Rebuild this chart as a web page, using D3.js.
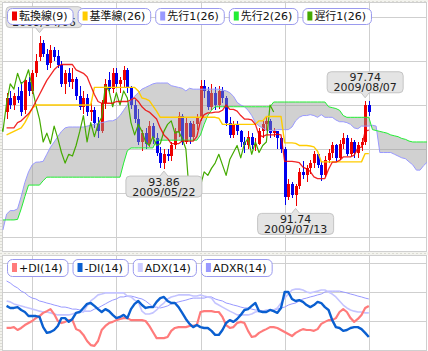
<!DOCTYPE html>
<html>
<head>
<meta charset="utf-8">
<script src="https://cdnjs.cloudflare.com/ajax/libs/d3/7.8.5/d3.min.js"></script>
<style>
body { margin: 0; background: #fff; }
svg { display: block; }
</style>
</head>
<body>
<div id="chart"></div>
<script>
// USD/JPY daily, bar 0 = 2009/04/06
const firstBar = -9
const firstDate = "2009-03-24"

const open = [97.1,97.9,97.5,98.0,98.3,97.2,98.8,98.3,99.3,
  100.2,101.0,100.4,99.9,100.6,100.3,99.8,98.7,99.3,98.8,
  99.0,98.0,97.4,97.9,97.1,97.2,96.5,96.0,97.6,98.9,
  98.4,99.3,98.7,98.9,99.5,98.5,97.5,96.7,95.4,95.9,
  95.3,96.3,95.6,94.8,94.2,94.7,94.6,95.2,96.0,96.9,
  95.4,96.5,95.7,96.4,96.8,98.6,98.3,97.4,98.2,97.5,
  98.3,97.9,96.5,95.8,96.4,96.0,95.4,95.2,95.7,95.2,
  95.3,96.0,96.4,96.6,95.9,96.0,95.6,95.0,92.3,93.0,
  92.4,92.9,93.7,93.5,93.9,94.2,94.7,94.1,93.5,94.4,
  94.8,95.2,94.5,95.3,95.6,94.7,95.4,94.8,95.2,95.4,
  97.5]
const high = [98.2,98.3,98.2,98.5,98.8,99.0,99.1,99.5,100.4,
  101.44,101.2,100.7,100.9,100.8,100.6,100.0,99.5,99.6,99.6,
  99.1,98.6,98.3,98.1,97.6,97.4,96.8,97.8,99.0,99.4,
  99.6,99.6,99.1,99.7,99.6,98.6,97.8,97.3,96.1,96.2,
  96.6,96.5,95.9,95.1,95.0,95.0,95.4,96.2,97.1,97.0,
  96.8,96.6,96.6,97.0,98.9,98.9,98.5,98.7,98.5,98.6,
  98.5,98.0,96.8,96.6,96.6,96.1,95.7,96.0,95.9,95.6,
  96.2,96.6,96.8,96.7,96.2,96.0,95.7,95.1,93.3,93.1,
  93.0,93.9,94.3,94.1,94.4,94.9,94.8,94.3,94.6,95.0,
  95.4,95.3,95.5,95.9,95.8,95.6,95.5,95.4,95.6,97.74,
  97.7]
const low = [96.7,97.3,97.2,97.6,96.9,97.0,98.0,98.1,99.1,
  100.0,100.2,99.5,99.6,100.0,99.6,98.5,98.1,98.5,98.4,
  97.8,97.2,97.0,96.9,96.6,96.2,95.6,95.9,97.3,98.1,
  98.2,98.5,98.2,98.5,98.2,97.3,96.5,95.2,94.9,95.0,
  95.1,95.3,94.6,93.9,93.86,94.3,94.3,95.0,95.7,95.2,
  95.3,95.3,95.5,96.1,96.6,97.9,97.2,97.2,97.2,97.3,
  97.6,96.3,95.6,95.6,95.8,95.1,94.8,95.0,95.0,94.9,
  95.2,95.6,96.0,95.6,95.7,95.0,94.8,91.8,92.1,92.2,
  91.74,92.7,93.3,93.1,93.6,93.9,93.9,93.2,93.4,94.2,
  94.5,94.3,94.4,95.0,94.6,94.6,94.5,94.5,94.9,95.2,
  96.9]
const close = [97.9,97.5,98.0,97.8,97.1,98.9,98.3,99.3,100.0,
  101.0,100.4,99.8,100.6,100.2,99.8,98.7,99.3,98.8,99.0,
  98.0,97.4,97.9,97.1,97.2,96.5,96.0,97.6,98.7,98.4,
  99.3,98.7,98.9,99.5,98.5,97.5,96.7,95.4,95.9,95.3,
  96.3,95.6,94.8,94.2,94.7,94.6,95.2,96.0,96.9,95.4,
  96.5,95.7,96.4,96.8,98.6,98.3,97.4,98.2,97.5,98.3,
  97.9,96.5,95.8,96.4,96.0,95.4,95.2,95.7,95.2,95.3,
  96.0,96.4,96.6,95.9,96.0,95.6,95.0,92.3,93.0,92.4,
  92.9,93.7,93.5,93.9,94.2,94.7,94.1,93.5,94.4,94.8,
  95.2,94.5,95.3,95.6,94.7,95.4,94.8,95.2,95.4,97.5,
  97.1]

// ichimoku lines, same bars as the candles
const tenkan = [96.2,96.2,96.2,96.5,96.6,96.8,97.0,97.3,97.7,
  98.1,98.5,98.9,99.2,99.5,99.7,99.8,99.8,99.8,99.8,
  99.5,99.4,99.3,99.1,98.6,98.1,97.7,97.6,97.6,97.6,
  97.6,97.7,97.7,97.7,97.7,97.8,97.9,97.7,97.4,97.2,
  97.1,96.9,96.7,96.2,95.8,95.6,95.3,95.3,95.3,95.45,
  95.45,95.45,95.45,95.7,96.6,96.95,97.05,97.05,97.1,97.1,
  97.2,97.5,97.25,97.25,97.15,96.9,96.7,96.7,96.65,96.4,
  95.8,95.7,95.8,95.8,95.8,95.85,95.8,94.3,94.3,94.3,
  94.27,94.22,93.97,93.87,93.72,93.42,93.32,93.32,93.32,93.85,
  94.25,94.25,94.35,94.55,94.55,94.55,94.65,95.05,95.1,96.02,
  96.07]
const kijun = [95.8,95.9,96.0,96.1,96.2,96.5,96.9,97.3,97.5,
  97.5,97.5,97.5,97.5,97.5,97.5,97.5,97.5,97.5,97.5,
  97.5,97.5,97.5,97.5,97.5,98.5,98.5,98.5,98.5,98.5,
  98.5,98.5,98.5,98.5,98.5,98.5,98.5,98.3,97.9,97.85,
  97.75,97.45,97.15,96.8,96.8,96.8,96.8,96.8,96.8,96.8,
  96.8,96.8,96.8,96.8,96.8,96.8,96.8,96.8,96.8,96.75,
  96.4,96.4,96.4,96.4,96.4,96.4,96.4,96.4,96.4,96.4,
  96.6,96.6,96.85,96.85,96.85,96.85,96.85,95.35,95.35,95.35,
  95.32,95.2,95.2,95.2,95.17,95.12,94.87,94.27,94.27,94.27,
  94.27,94.27,94.27,94.27,94.27,94.27,94.27,94.27,94.27,94.74,
  94.74]

// leading spans start one bar earlier and run 26 bars ahead
const leadFirst = -10
const senkouA = [90.4,91.3,91.5,91.5,91.6,92.3,93.1,93.7,94.1,94.25,
  94.26,94.3,94.7,95.1,95.4,95.7,96.0,96.2,96.25,96.25,
  96.25,96.25,96.25,96.3,96.35,96.4,96.45,96.5,96.55,96.6,
  96.6,96.7,96.9,97.2,97.5,97.8,98.0,98.2,98.4,98.5,
  98.6,98.7,98.75,98.75,98.75,98.75,98.6,98.55,98.5,98.45,
  98.3,98.45,98.4,98.4,98.4,98.4,98.4,98.4,98.4,98.4,
  98.35,98.3,98.2,98.0,97.65,97.5,97.4,97.2,96.9,96.5,
  96.3,96.2,96.05,96.05,96.05,96.1,96.1,96.1,96.1,96.25,
  96.6,96.8,96.9,96.9,96.95,96.9,96.8,96.95,96.8,96.8,
  96.8,96.65,96.55,96.55,96.5,96.4,96.2,96.15,96.3,96.3,
  96.3,96.35,96.3,94.8,94.8,94.8,94.8,94.7,94.6,94.5,
  94.45,94.27,94.1,93.8,93.8,94.06,94.26]
const senkouB = [90.97,90.97,90.97,90.97,91.0,91.6,92.3,92.95,92.95,92.95,
  92.95,93.2,93.4,93.4,93.4,93.4,93.4,93.4,93.4,93.4,
  93.4,93.4,93.4,93.4,93.4,93.4,93.4,93.4,93.4,93.4,
  93.4,93.4,93.4,94.2,94.9,95.06,95.06,95.06,95.06,95.06,
  95.06,95.06,95.5,95.5,95.5,95.5,95.5,95.5,95.5,95.5,
  95.5,95.5,95.5,95.5,95.8,96.4,96.9,97.2,97.4,97.4,
  97.4,97.4,97.4,97.4,97.4,97.4,97.4,97.4,97.4,97.4,
  97.4,97.4,97.4,97.4,97.67,97.67,97.67,97.67,97.67,97.67,
  97.67,97.67,97.67,97.67,97.67,97.67,97.67,97.67,97.67,97.4,
  97.35,97.3,97.2,96.9,96.8,96.8,96.8,96.8,96.8,96.8,
  96.8,96.1,96.05,96.0,95.95,95.9,95.8,95.75,95.7,95.6,
  95.55,95.45,95.4,95.4,95.4,95.4,95.4]
const lagShift = 26

// DMI(14), same bars as the candles
const plusDI = [17.6,17.6,17.9,16.9,17.6,18.6,19.3,20.0,21.0,
  21.7,22.8,23.4,24.1,22.4,20.0,19.3,19.7,20.3,20.3,
  17.2,16.6,15.2,13.1,11.7,11.4,13.1,16.9,18.3,19.3,
  19.7,20.3,20.7,21.0,21.0,20.3,20.3,20.3,20.3,20.0,
  18.3,16.2,14.1,14.1,14.1,14.5,16.6,17.6,17.9,17.9,
  17.9,18.3,18.3,18.6,23.1,23.4,23.4,23.4,23.1,23.1,
  21.4,18.6,17.6,17.9,19.3,19.7,19.3,16.6,14.5,14.8,
  15.9,16.6,17.2,17.9,17.9,17.6,16.9,16.2,15.5,14.8,
  15.9,16.6,17.2,16.9,16.9,16.6,17.2,19.0,19.7,20.3,
  20.3,21.0,23.1,24.1,23.1,21.0,19.7,20.7,22.1,24.5,
  25.2]
const minusDI = [25.2,24.5,24.5,24.8,23.8,23.1,21.7,21.7,21.7,
  21.4,17.9,15.9,16.2,16.9,18.3,21.0,21.0,19.7,20.7,
  22.8,23.1,24.5,25.9,26.2,25.2,24.1,23.1,24.1,23.4,
  22.1,21.0,21.4,22.1,21.0,24.1,25.9,26.9,25.5,24.5,
  24.8,24.8,26.6,27.9,28.3,26.9,26.2,26.2,24.8,22.8,
  20.7,19.0,17.9,18.6,17.9,17.6,17.6,16.6,15.2,15.2,
  16.9,19.3,20.3,19.7,20.7,22.1,23.8,24.1,25.2,26.2,
  23.4,23.1,23.1,23.8,23.4,22.8,24.5,30.0,30.0,27.6,
  26.9,27.2,26.6,25.5,24.8,25.5,26.6,26.2,24.8,23.8,
  20.3,17.9,17.6,16.6,16.9,17.6,17.9,17.9,17.2,15.9,
  14.5]
const adx = [26.9,26.6,25.9,25.5,25.2,24.8,24.5,24.1,23.8,
  23.4,23.1,23.1,22.8,22.4,22.1,22.1,22.1,22.1,22.4,
  22.8,23.1,23.1,25.2,26.9,27.9,29.0,29.3,29.7,29.7,
  29.7,29.7,29.7,29.7,28.6,28.3,27.2,26.6,23.4,22.4,
  22.4,22.8,23.8,25.2,26.2,27.6,28.3,28.6,29.0,29.0,
  29.0,29.0,28.6,28.6,29.0,28.6,28.3,27.9,26.2,25.5,
  24.8,24.1,23.4,22.8,22.1,22.1,22.1,22.1,22.4,23.1,
  23.4,23.4,23.8,23.8,23.8,24.5,26.2,27.9,29.3,30.7,
  31.0,31.0,30.7,30.0,29.7,30.0,30.3,30.7,30.7,30.0,
  29.3,28.3,26.9,25.5,24.5,23.8,23.4,23.1,23.1,22.8,
  22.8]
const adxr = [33.8,33.1,32.1,31.4,30.3,29.7,28.6,27.9,27.6,
  26.9,26.6,26.2,25.9,25.5,25.2,24.8,24.8,24.5,24.1,
  24.1,23.8,23.4,23.4,23.4,24.1,24.5,25.2,25.9,26.6,
  27.2,27.6,28.3,28.3,28.6,28.6,28.3,27.9,27.6,26.9,
  25.9,24.8,24.8,24.5,24.8,25.2,25.9,26.2,26.6,26.9,
  27.2,27.6,27.9,27.9,27.9,27.9,28.3,28.3,27.6,27.2,
  26.9,26.2,25.9,25.5,25.2,24.8,24.5,24.5,24.1,23.8,
  23.8,23.4,23.4,23.8,23.8,24.1,24.5,24.8,25.5,25.9,
  26.2,26.9,27.6,27.9,28.3,28.6,29.0,29.3,30.0,30.3,
  30.3,30.3,30.3,30.0,29.7,29.3,29.0,28.6,28.3,27.9,
  27.6]

const priceTicks = [90, 92.5, 95, 97.5, 100, 102.5]
const dmiTicks = [10, 20, 30, 40]
const gridBars = [-2, 21, 44, 67, 90]

const topLegend = ["転換線(9)", "基準線(26)", "先行1(26)", "先行2(26)", "遅行1(26)"]
const topColors = ["#ee0000", "#ffcc00", "#9999ff", "#22ee33", "#44aa00"]
const dmiLegend = ["+DI(14)", "-DI(14)", "ADX(14)", "ADXR(14)"]
const dmiColors = ["#ff7b7b", "#0a5fd0", "#ccccff", "#9999ff"]

const callouts = [
  { date: "2009/04/06", value: 101.44, side: "high" },
  { date: "2009/05/22", value: 93.86, side: "low" },
  { date: "2009/07/13", value: 91.74, side: "low" },
  { date: "2009/08/07", value: 97.74, side: "high" }
]

// trading day labels for the candles
const fmtDate = d3.timeFormat("%Y/%m/%d")
const dates = []
let day = d3.timeParse("%Y-%m-%d")(firstDate)
while (dates.length < open.length) {
  if (day.getDay() !== 0 && day.getDay() !== 6) dates.push(fmtDate(day))
  day = d3.timeDay.offset(day, 1)
}

const W = 428
const H = 351
const left = 2, right = 427
const topY0 = 2, topY1 = 252
const dmiY0 = 255, dmiY1 = 352

const svg = d3.select("#chart").append("svg")
  .attr("width", W)
  .attr("height", H)
  .style("font-family", "'DejaVu Sans', 'Noto Sans CJK JP', sans-serif")

const x = d3.scaleLinear().domain([-10.25, 105.9]).range([left, right])
const yP = d3.scaleLinear().domain([90, 102.5]).range([237, 17])
const yD = d3.scaleLinear().domain([10, 40]).range([350, 263])

// hatched frame strips
const defs = svg.append("defs")
const pat = defs.append("pattern").attr("id", "hatch")
  .attr("width", 4).attr("height", 3).attr("patternUnits", "userSpaceOnUse")
pat.append("rect").attr("width", 4).attr("height", 3).attr("fill", "#f3f3ee")
pat.append("rect").attr("x", 0).attr("y", 1).attr("width", 2).attr("height", 1).attr("fill", "#dcdcd4")

svg.append("rect").attr("x", 0).attr("y", 0).attr("width", W).attr("height", topY0).attr("fill", "url(#hatch)")
svg.append("rect").attr("x", 0).attr("y", 0).attr("width", left).attr("height", H).attr("fill", "url(#hatch)")
svg.append("rect").attr("x", 0).attr("y", topY1).attr("width", W).attr("height", dmiY0 - topY1).attr("fill", "url(#hatch)")

defs.append("clipPath").attr("id", "clipTop").append("rect")
  .attr("x", left).attr("y", topY0).attr("width", right - left).attr("height", topY1 - topY0)
defs.append("clipPath").attr("id", "clipDmi").append("rect")
  .attr("x", left).attr("y", dmiY0).attr("width", right - left).attr("height", dmiY1 - dmiY0)

// grids
function grid(g, yScale, ticks, y0, y1) {
  g.append("g")
    .attr("transform", `translate(0,${y1})`)
    .call(d3.axisBottom(x).tickValues(gridBars).tickSize(-(y1 - y0)).tickFormat(""))
  g.append("g")
    .attr("transform", `translate(${left},0)`)
    .call(d3.axisLeft(yScale).tickValues(ticks).tickSize(-(right - left)).tickFormat(""))
  g.selectAll(".domain").remove()
  g.selectAll(".tick line").attr("stroke", "#cfcfcf").attr("shape-rendering", "crispEdges")
  g.append("rect").attr("x", left + 0.5).attr("y", y0 + 0.5)
    .attr("width", right - left - 1).attr("height", y1 - y0 - 1)
    .attr("fill", "none").attr("stroke", "#cfcfcf").attr("shape-rendering", "crispEdges")
}

const topG = svg.append("g")
grid(topG.append("g"), yP, priceTicks, topY0, topY1)
const dmiG = svg.append("g")
grid(dmiG.append("g"), yD, dmiTicks, dmiY0, dmiY1)

const plot = topG.append("g").attr("clip-path", "url(#clipTop)")

// candles
const bars = open.map((o, k) => ({
  bar: k + firstBar, o: o, h: high[k], l: low[k], c: close[k]
}))

const candle = plot.append("g").selectAll("g")
  .data(bars)
  .enter()
  .append("g")
  .attr("shape-rendering", "crispEdges")

candle.append("line")
  .attr("x1", d => Math.round(x(d.bar)) + 0.5)
  .attr("x2", d => Math.round(x(d.bar)) + 0.5)
  .attr("y1", d => yP(d.h))
  .attr("y2", d => yP(d.l))
  .attr("stroke", d => d.c >= d.o ? "#ee0000" : "#0000ee")

candle.append("rect")
  .attr("x", d => Math.round(x(d.bar)) - 1)
  .attr("width", 3)
  .attr("y", d => yP(Math.max(d.o, d.c)))
  .attr("height", d => Math.max(1, Math.abs(yP(d.o) - yP(d.c))))
  .attr("fill", d => d.c >= d.o ? "#ee0000" : "#0000ee")

// cloud, painted over the candles
const lead = senkouA.map((a, k) => ({ bar: k + leadFirst, a: a, b: senkouB[k] }))

plot.append("path")
  .datum(lead)
  .attr("d", d3.area().x(d => x(d.bar)).y0(d => yP(d.b)).y1(d => yP(d.a)))
  .attr("fill", "#999")
  .attr("fill-opacity", 0.45)

function drawLine(g, data, yScale, color, width, opacity) {
  g.append("path")
    .datum(data)
    .attr("d", d3.line().x(d => x(d.bar)).y(d => yScale(d.v)))
    .attr("fill", "none")
    .attr("stroke", color)
    .attr("stroke-width", width)
    .attr("stroke-opacity", opacity || 1)
    .attr("stroke-linejoin", "round")
}

drawLine(plot, lead.map(d => ({ bar: d.bar, v: d.a })), yP, "#9999ff", 1)
drawLine(plot, lead.map(d => ({ bar: d.bar, v: d.b })), yP, "#22ee33", 1)
drawLine(plot, bars.map(d => ({ bar: d.bar - lagShift, v: d.c })), yP, "#44aa00", 1.2)
drawLine(plot, kijun.map((v, k) => ({ bar: k + firstBar, v: v })), yP, "#ffcc00", 1.4)
drawLine(plot, tenkan.map((v, k) => ({ bar: k + firstBar, v: v })), yP, "#ee0000", 1.3, 0.85)

// callouts
const cw = 76, ch = 21
callouts.forEach(c => {
  const k = dates.indexOf(c.date)
  const cx = x(k + firstBar)
  const bx = Math.max(6, cx - cw / 2)
  const p = d3.path()
  let by
  if (c.side === "high") {
    const tip = yP(high[k]) - 3
    by = tip - 5 - ch
    p.moveTo(bx + 4, by)
    p.lineTo(bx + cw - 4, by)
    p.quadraticCurveTo(bx + cw, by, bx + cw, by + 4)
    p.lineTo(bx + cw, by + ch - 4)
    p.quadraticCurveTo(bx + cw, by + ch, bx + cw - 4, by + ch)
    p.lineTo(cx + 4, by + ch)
    p.lineTo(cx, tip)
    p.lineTo(cx - 4, by + ch)
    p.lineTo(bx + 4, by + ch)
    p.quadraticCurveTo(bx, by + ch, bx, by + ch - 4)
    p.lineTo(bx, by + 4)
    p.quadraticCurveTo(bx, by, bx + 4, by)
  } else {
    const tip = yP(low[k]) + 2
    by = tip + 5
    p.moveTo(bx + 4, by)
    p.lineTo(cx - 4, by)
    p.lineTo(cx, tip)
    p.lineTo(cx + 4, by)
    p.lineTo(bx + cw - 4, by)
    p.quadraticCurveTo(bx + cw, by, bx + cw, by + 4)
    p.lineTo(bx + cw, by + ch - 4)
    p.quadraticCurveTo(bx + cw, by + ch, bx + cw - 4, by + ch)
    p.lineTo(bx + 4, by + ch)
    p.quadraticCurveTo(bx, by + ch, bx, by + ch - 4)
    p.lineTo(bx, by + 4)
    p.quadraticCurveTo(bx, by, bx + 4, by)
  }
  p.closePath()
  const g = topG.append("g")
  g.append("path").attr("d", p.toString())
    .attr("fill", "#e4e4e4").attr("stroke", "#c4c4c4")
  g.append("text").attr("x", bx + cw / 2).attr("y", by + 9.5)
    .attr("text-anchor", "middle").attr("font-size", 11).attr("fill", "#222")
    .text(c.value.toFixed(2))
  g.append("text").attr("x", bx + cw / 2).attr("y", by + 19.5)
    .attr("text-anchor", "middle").attr("font-size", 11).attr("fill", "#222")
    .text(c.date)
})

// DMI panel
const dmiPlot = dmiG.append("g").attr("clip-path", "url(#clipDmi)")
const perBar = arr => arr.map((v, k) => ({ bar: k + firstBar, v: v }))
drawLine(dmiPlot, perBar(adxr), yD, "#9999ff", 1)
drawLine(dmiPlot, perBar(adx), yD, "#c4c4ff", 1.6)
drawLine(dmiPlot, perBar(plusDI), yD, "#ff7b7b", 2.2)
drawLine(dmiPlot, perBar(minusDI), yD, "#0a5fd0", 2.4)

// legends
function legend(labels, colors, x0, y0, h) {
  let cx = x0
  labels.forEach((label, k) => {
    const g = svg.append("g")
    const box = g.append("rect")
    g.append("rect").attr("x", cx + 5).attr("y", y0 + (h - 9) / 2)
      .attr("width", 5).attr("height", 9).attr("fill", colors[k])
    const t = g.append("text").attr("x", cx + 12).attr("y", y0 + h / 2 + 4)
      .attr("font-size", 11).attr("fill", "#111").text(label)
    const w = 12 + t.node().getComputedTextLength() + 5
    box.attr("x", cx + 0.5).attr("y", y0 + 0.5).attr("width", w).attr("height", h)
      .attr("rx", 5).attr("fill", "#fff").attr("stroke", "#9a9aee")
    cx += w + 5
  })
}

legend(topLegend, topColors, 7, 8, 16)
legend(dmiLegend, dmiColors, 7, 259, 17)
</script>
</body>
</html>
